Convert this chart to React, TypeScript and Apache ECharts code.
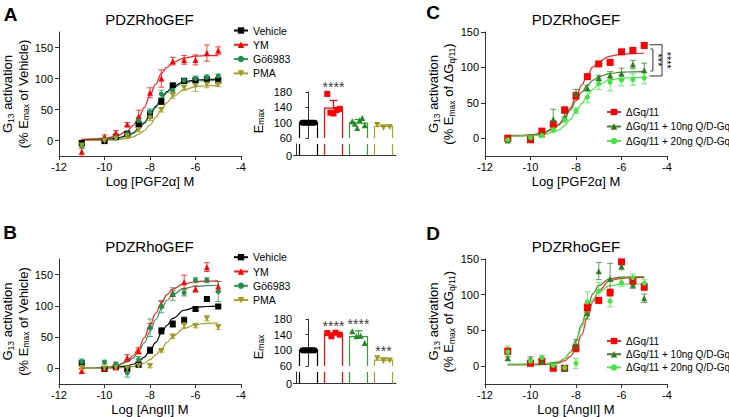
import React, { useEffect, useRef } from "react";
import * as echarts from "echarts";

const FONT = '"Liberation Sans", Arial, Helvetica, sans-serif';

// ---------- shared x values ----------
const doses = [-11, -10, -9.5, -9, -8.5, -8, -7.5, -7, -6.5, -6, -5.5, -5];
const fitDoses = [-11, -10.5, -10, -9.5, -9, -8.75, -8.5, -8.25, -8, -7.75, -7.5, -7.25, -7, -6.5, -6, -5.5, -5];
const yTickValues = [0, 50, 100, 150];

// ---------- Panel A (PGF2α) ----------
const vehicleA = [-4, -1, 6, 11, 26, 42, 63, 89, 96, 97, 99, 97];
const vehicleErrA = [4, 3, 3, 3, 5, 6, 5, 3, 3, 4, 4, 4];
const vehicleFitA = [1.5, 1.5, 2, 3.5, 8, 12, 19, 29, 41, 55, 68, 79, 87, 95, 97.5, 98.5, 99];
const ymA = [-18, 6, 12, 26, 39, 77, 100, 128, 130, 130, 141, 145];
const ymErrA = [8, 3, 4, 3, 10, 8, 14, 6, 7, 8, 13, 6];
const ymFitA = [2, 2.5, 3.5, 6.5, 15, 24, 36, 53, 73, 91, 108, 118, 126, 133, 136, 137, 137];
const goA = [-9, 2, 5, 11, 32, 46, 75, 81, 97, 100, 102, 104];
const goErrA = [4, 3, 3, 3, 4, 5, 6, 5, 4, 4, 4, 3];
const goFitA = [0, 0.5, 1, 2.5, 6.5, 11, 18, 27, 40, 53, 67, 77, 85, 93, 96, 97, 97.5];
const pmaA = [-8, -1, 3, 6, 17, 36, 49, 73, 85, 88, 90, 90];
const pmaErrA = [5, 2, 2, 2, 3, 4, 3, 5, 4, 9, 5, 3];
const pmaFitA = [0, 0, 0.4, 1, 3.4, 6, 10, 16, 25, 37, 50, 61, 71, 82, 87, 88.3, 89];

// ---------- Panel B (AngII) ----------
const vehicleB = [8, -1, 2, -1, 6, 29, 60, 71, 77, 95, 111, 99];
const vehicleErrB = [4, 2, 2, 4, 4, 5, 5, 5, 5, 3, 3, 3];
const vehicleFitB = [0, 0, 0.5, 1.5, 4, 6.6, 11, 18, 28.5, 41.5, 56, 69, 80, 93, 97.5, 99, 100];
const ymB = [-4, 0, 2, 17, 28, 68, 102, 120, 138, 127, 162, 131];
const ymErrB = [4, 2, 2, 5, 5, 4, 5, 5, 11, 5, 7, 8];
const ymFitB = [0, 0.4, 1.3, 4, 12, 20, 32, 49, 69, 88, 105, 118, 127, 135.5, 138.6, 139.5, 140];
const goB = [11, 10, 7, -7, 14, 65, 99, 119, 121, 141, 141, 123];
const goErrB = [4, 3, 3, 7, 5, 14, 10, 10, 5, 4, 4, 16];
const goFitB = [0, 0.3, 1, 3.3, 10, 16.5, 27, 41, 59, 78, 95, 109, 118, 128, 131, 132.5, 133];
const pmaB = [1, 0, 1, 0, 4, 4, 28, 51, 69, 68, 80, 66];
const pmaErrB = [3, 2, 2, 2, 2, 3, 2, 3, 4, 3, 4, 4];
const pmaFitB = [0, 0, 0.2, 0.6, 1.7, 2.9, 5, 8.5, 14, 21.5, 31, 41.6, 51, 64, 70, 72, 72.7];

// ---------- Panel C (PGF2α, ΔGq/11) ----------
const ctrlC = [0, -2, 10, 20, 40, 60, 87, 105, 107, 122, 124, 131];
const ctrlErrC = [3, 2, 4, 4, 4, 5, 3, 3, 2, 2, 2, 2];
const ctrlFitC = [4, 4.3, 5, 7, 13.5, 20, 29.5, 42.7, 58.5, 75, 89.6, 100.7, 108.4, 116, 118.7, 119.6, 120];
const q10C = [-3, 2, 6, 27, 30, 63, 71, 85, 89, 91, 104, 96];
const q10ErrC = [2, 2, 3, 14, 5, 6, 4, 4, 5, 8, 6, 10];
const q10FitC = [3, 3.3, 4, 6.4, 12.7, 19, 28, 39.7, 52.7, 65, 75, 82, 87, 91.6, 93.3, 93.8, 94];
const q20C = [-2, 1, 4, 12, 26, 39, 58, 77, 79, 82, 83, 85];
const q20ErrC = [2, 2, 3, 3, 4, 4, 8, 8, 12, 8, 8, 8];
const q20FitC = [3, 3.2, 3.6, 4.8, 8.5, 12, 18, 26.6, 37.5, 49, 60, 69.4, 75.7, 82.4, 84.8, 85.6, 86];
const sigTopsC = [126, 132];
const sigBottomsC = [95, 88];
const sigStarsC = ["***", "****"];

// ---------- Panel D (AngII, ΔGq/11) ----------
const ctrlD = [21, 4, 7, -3, -3, 25, 82, 92, 103, 146, 119, 111];
const ctrlErrD = [4, 3, 3, 3, 4, 5, 6, 4, 5, 3, 4, 5];
const ctrlFitD = [2, 2, 2, 2.2, 3.1, 4.5, 7.5, 13.6, 25, 44, 68, 90.5, 106, 120, 123, 123.8, 124];
const q10D = [11, 10, 6, 2, -3, 29, 74, 133, 122, 140, 114, 95];
const q10ErrD = [3, 3, 3, 3, 3, 8, 8, 12, 22, 5, 5, 6];
const q10FitD = [2, 2, 2.1, 2.4, 3.8, 6, 10.6, 19.8, 36, 58.6, 82.7, 101.6, 113, 122.6, 124.5, 125, 125];
const q20D = [20, 7, 12, 1, -2, 4, 90, 105, 91, 117, 124, 116];
const q20ErrD = [8, 3, 3, 3, 3, 7, 14, 12, 8, 5, 5, 5];
const q20FitD = [3, 3, 3.1, 3.4, 4.7, 6.7, 10.8, 19, 33.8, 54.5, 76.5, 93.7, 104, 112.8, 114.6, 115, 115];

// ---------- Emax insets ----------
const emaxCategories = ["Vehicle", "YM", "Gö6983", "PMA"];
const emaxTicks = [60, 100, 140, 180];
const emaxMeanA = [100, 138, 99, 90];
const emaxSdA = [0, 20, 9, 4];
const emaxPointsA = [
  [100, 100, 100, 100, 100, 100, 100, 100, 100, 100],
  [175, 126, 124, 133, 136],
  [104, 97, 86, 106, 112, 93],
  [94, 87, 89],
];
const emaxStarsA = ["", "****", "", ""];
const emaxMeanB = [100, 141, 135, 75];
const emaxSdB = [0, 4, 15, 6];
const emaxPointsB = [
  [100, 100, 100, 100, 100, 100, 100, 100, 100, 100],
  [144, 136, 145, 140],
  [149, 136, 137, 119],
  [80, 73, 74],
];
const emaxStarsB = ["", "****", "****", "***"];

// ---------- styles ----------
const abSpecs = [
  { name: "Vehicle", color: "#000000", line: "#000000", symbol: "rect", rot: 0, size: 6 },
  { name: "YM", color: "#ff0000", line: "#ff1a1a", symbol: "triangle", rot: 0, size: 6 },
  { name: "Gö6983", color: "#1f9052", line: "#2a9a5c", symbol: "circle", rot: 0, size: 5 },
  { name: "PMA", color: "#9c9c22", line: "#a3a32e", symbol: "triangle", rot: 180, size: 6 },
];
const cdSpecs = [
  { name: "ΔGq/11", color: "#ff0000", line: "#ff2020", symbol: "rect", rot: 0, size: 7 },
  { name: "ΔGq/11 + 10ng Q/D-Gq", color: "#2a7d1f", line: "#4a7f2a", symbol: "triangle", rot: 0, size: 6 },
  { name: "ΔGq/11 + 20ng Q/D-Gq", color: "#3ee63e", line: "#4ee84e", symbol: "circle", rot: 0, size: 5 },
];
const insetBarColors = ["#000000", "#ff0000", "#3a9a3a", "#a3a32a"];
const insetPointColors = ["#000000", "#ff0000", "#1e8c1e", "#9a9a1a"];
const insetSymbols = ["circle", "rect", "triangle", "triangle"];
const insetRots = [0, 0, 0, 180];
const LOWER_MAX = 20;
const AXIS_COLOR = "#333";

function errorBarRenderer(color: string) {
  return (params: any, api: any) => {
    const x = api.value(0);
    const y = api.value(1);
    const e = api.value(2);
    const top = api.coord([x, y + e]);
    const bot = api.coord([x, y - e]);
    const w = 3;
    const st = { stroke: color, lineWidth: 1, opacity: 0.75 };
    return {
      type: "group",
      children: [
        { type: "line", shape: { x1: top[0], y1: top[1], x2: bot[0], y2: bot[1] }, style: st },
        { type: "line", shape: { x1: top[0] - w, y1: top[1], x2: top[0] + w, y2: top[1] }, style: st },
        { type: "line", shape: { x1: bot[0] - w, y1: bot[1], x2: bot[0] + w, y2: bot[1] }, style: st },
      ],
    };
  };
}

function doseSeries(g: number, spec: any, pts: number[], errs: number[], fit: number[]) {
  return [
    {
      type: "line",
      name: spec.name,
      xAxisIndex: g,
      yAxisIndex: g,
      data: fitDoses.map((d, i) => [d, fit[i]]),
      smooth: 0.4,
      smoothMonotone: "x",
      showSymbol: false,
      symbol: spec.symbol,
      symbolRotate: spec.rot,
      symbolSize: spec.size,
      itemStyle: { color: spec.color },
      lineStyle: { color: spec.line, width: 1.2 },
      silent: true,
      z: 2,
    },
    {
      type: "custom",
      xAxisIndex: g,
      yAxisIndex: g,
      dimensions: ["x", "y", "e"],
      encode: { x: 0, y: 1 },
      data: doses.map((d, i) => [d, pts[i], errs[i]]),
      renderItem: errorBarRenderer(spec.color),
      silent: true,
      z: 3,
    },
    {
      type: "scatter",
      xAxisIndex: g,
      yAxisIndex: g,
      data: doses.map((d, i) => [d, pts[i]]),
      symbol: spec.symbol,
      symbolRotate: spec.rot,
      symbolSize: spec.size,
      itemStyle: { color: spec.color, opacity: 1 },
      silent: true,
      z: 4,
    },
  ];
}

function insetSeries(
  catX: number, jitX: number, upY: number, lowX: number, lowY: number,
  means: number[], sds: number[], points: number[][], stars: string[]
) {
  const out: any[] = [];
  out.push({
    type: "custom",
    xAxisIndex: catX,
    yAxisIndex: upY,
    data: means.map((m, i) => [i, m]),
    renderItem: (params: any, api: any) => {
      const i = api.value(0);
      const v = api.value(1);
      const top = api.coord([i, v]);
      const base = api.coord([i, emaxTicks[0]]);
      const bw = api.size([1, 0])[0] * 0.72;
      return {
        type: "polyline",
        shape: {
          points: [
            [top[0] - bw / 2, base[1]],
            [top[0] - bw / 2, top[1]],
            [top[0] + bw / 2, top[1]],
            [top[0] + bw / 2, base[1]],
          ],
        },
        style: { stroke: insetBarColors[params.dataIndex], lineWidth: 1.2, fill: "none" },
      };
    },
    silent: true,
    z: 2,
  });
  out.push({
    type: "custom",
    xAxisIndex: lowX,
    yAxisIndex: lowY,
    data: means.map((m, i) => [i, m]),
    renderItem: (params: any, api: any) => {
      const i = api.value(0);
      const b = api.coord([i, 0]);
      const t = api.coord([i, LOWER_MAX]);
      const bw = api.size([1, 0])[0] * 0.72;
      const st = { stroke: insetBarColors[params.dataIndex], lineWidth: 1.2 };
      return {
        type: "group",
        children: [
          { type: "line", shape: { x1: b[0] - bw / 2, y1: b[1], x2: b[0] - bw / 2, y2: t[1] }, style: st },
          { type: "line", shape: { x1: b[0] + bw / 2, y1: b[1], x2: b[0] + bw / 2, y2: t[1] }, style: st },
        ],
      };
    },
    silent: true,
    z: 2,
  });
  out.push({
    type: "custom",
    xAxisIndex: catX,
    yAxisIndex: upY,
    data: means.map((m, i) => [i, m, sds[i]]),
    renderItem: (params: any, api: any) => {
      const i = api.value(0);
      const m = api.value(1);
      const s = api.value(2);
      if (!s) return { type: "group", children: [] };
      const a = api.coord([i, m]);
      const b = api.coord([i, m + s]);
      const st = { stroke: insetBarColors[params.dataIndex], lineWidth: 1.2 };
      return {
        type: "group",
        children: [
          { type: "line", shape: { x1: a[0], y1: a[1], x2: b[0], y2: b[1] }, style: st },
          { type: "line", shape: { x1: b[0] - 4, y1: b[1], x2: b[0] + 4, y2: b[1] }, style: st },
        ],
      };
    },
    silent: true,
    z: 3,
  });
  points.forEach((list, ci) => {
    const n = list.length;
    const spread = 0.5;
    out.push({
      type: "scatter",
      xAxisIndex: jitX,
      yAxisIndex: upY,
      data: list.map((v, j) => [ci + (n > 1 ? (j / (n - 1) - 0.5) * spread : 0), v]),
      symbol: insetSymbols[ci],
      symbolRotate: insetRots[ci],
      symbolSize: 6,
      itemStyle: { color: insetPointColors[ci], opacity: 1 },
      silent: true,
      clip: false,
      z: 4,
    });
  });
  // significance stars above the highest mark of each group
  out.push({
    type: "scatter",
    xAxisIndex: catX,
    yAxisIndex: upY,
    data: means.map((m, i) => ({
      value: [i, Math.max(m + sds[i], ...points[i])],
      label: { show: !!stars[i], formatter: stars[i] },
    })),
    symbolSize: 1,
    itemStyle: { color: "rgba(0,0,0,0)" },
    label: { position: "top", distance: -1, fontSize: 14, fontFamily: FONT, color: "#000" },
    silent: true,
    clip: false,
    z: 5,
  });
  return out;
}

function bracketSeries() {
  const xRight = [-4.62, -4.22];
  const xLeft = [-4.72, -4.78];
  return {
    type: "custom",
    xAxisIndex: 2,
    yAxisIndex: 2,
    data: sigTopsC.map((t, i) => [t, sigBottomsC[i]]),
    renderItem: (params: any, api: any) => {
      const k = params.dataIndex;
      const t = api.value(0);
      const b = api.value(1);
      const tl = api.coord([xLeft[k], t]);
      const tr = api.coord([xRight[k], t]);
      const br = api.coord([xRight[k], b]);
      const bl = api.coord([xLeft[k], b]);
      return {
        type: "group",
        children: [
          {
            type: "polyline",
            shape: { points: [tl, tr, br, bl] },
            style: { stroke: "#333", lineWidth: 1, fill: "none" },
          },
          {
            type: "text",
            x: tr[0] + 5,
            y: (tr[1] + br[1]) / 2,
            rotation: -Math.PI / 2,
            style: {
              text: sigStarsC[k],
              fontSize: 11,
              fontFamily: FONT,
              fill: "#000",
              align: "center",
              verticalAlign: "middle",
            },
          },
        ],
      };
    },
    silent: true,
    clip: false,
    z: 5,
  };
}

const richName = {
  n: { fontSize: 13, lineHeight: 15.5, fontFamily: FONT, color: "#000" },
  s: { fontSize: 8.5, lineHeight: 8, verticalAlign: "bottom", fontFamily: FONT, color: "#000" },
};

function mainXAxis(g: number, name: string) {
  return {
    type: "value",
    gridIndex: g,
    min: -12,
    max: -4,
    interval: 2,
    name,
    nameLocation: "middle",
    nameGap: 19,
    nameTextStyle: { fontSize: 13, fontFamily: FONT, color: "#000" },
    axisLine: { onZero: false, lineStyle: { color: AXIS_COLOR, width: 1 } },
    axisTick: { length: 4, lineStyle: { color: AXIS_COLOR } },
    axisLabel: { fontSize: 11, fontFamily: FONT, color: "#000", margin: 5 },
    splitLine: { show: false },
  };
}

function mainYAxis(g: number, max: number, name: string) {
  return {
    type: "value",
    gridIndex: g,
    min: -25,
    max,
    name,
    nameLocation: "middle",
    nameGap: 26,
    nameRotate: 90,
    nameTextStyle: { fontFamily: FONT, color: "#000", rich: richName },
    axisLine: { show: true, onZero: false, lineStyle: { color: AXIS_COLOR, width: 1 } },
    axisTick: { show: true, length: 4, customValues: yTickValues, lineStyle: { color: AXIS_COLOR } },
    axisLabel: { customValues: yTickValues, fontSize: 11, fontFamily: FONT, color: "#000", margin: 6 },
    splitLine: { show: false },
  };
}

function buildOption() {
  const yNameAB = "{n|G}{s|13}{n| activation}\n{n|(% E}{s|max}{n| of Vehicle)}";
  const yNameCD = "{n|G}{s|13}{n| activation}\n{n|(% E}{s|max}{n| of ΔG}{s|q/11}{n|)}";

  const grid = [
    { left: 58, top: 32, width: 183, height: 124 },
    { left: 59, top: 259, width: 182, height: 125 },
    { left: 485, top: 32, width: 182, height: 124 },
    { left: 485, top: 259, width: 182, height: 125 },
    { left: 296, top: 92, width: 100, height: 46 },
    { left: 296, top: 144, width: 100, height: 11.5 },
    { left: 296, top: 319, width: 100, height: 47 },
    { left: 296, top: 372, width: 100, height: 11.5 },
  ];

  const hiddenCat = (g: number) => ({ type: "category", gridIndex: g, data: emaxCategories, show: false });
  const baseCat = (g: number) => ({
    type: "category",
    gridIndex: g,
    data: emaxCategories,
    axisLine: { show: true, lineStyle: { color: AXIS_COLOR, width: 1 } },
    axisTick: { show: false },
    axisLabel: { show: false },
  });
  const jitter = (g: number) => ({ type: "value", gridIndex: g, min: -0.5, max: 3.5, show: false });
  const upperY = (g: number) => ({
    type: "value",
    gridIndex: g,
    min: emaxTicks[0],
    max: emaxTicks[emaxTicks.length - 1],
    interval: 40,
    axisLine: { show: true, lineStyle: { color: AXIS_COLOR, width: 1 } },
    axisTick: { show: true, length: 3, lineStyle: { color: AXIS_COLOR } },
    axisLabel: { fontSize: 11, fontFamily: FONT, color: "#000", margin: 4 },
    splitLine: { show: false },
  });
  const lowerY = (g: number) => ({
    type: "value",
    gridIndex: g,
    min: 0,
    max: LOWER_MAX,
    axisLine: { show: true, lineStyle: { color: AXIS_COLOR, width: 1 } },
    axisTick: { show: true, length: 3, customValues: [0], lineStyle: { color: AXIS_COLOR } },
    axisLabel: { customValues: [0], fontSize: 11, fontFamily: FONT, color: "#000", margin: 4 },
    splitLine: { show: false },
  });

  const xAxis = [
    mainXAxis(0, "Log [PGF2α] M"),
    mainXAxis(1, "Log [AngII] M"),
    mainXAxis(2, "Log [PGF2α] M"),
    mainXAxis(3, "Log [AngII] M"),
    hiddenCat(4),
    baseCat(5),
    hiddenCat(6),
    baseCat(7),
    jitter(4),
    jitter(6),
  ];
  const yAxis = [
    mainYAxis(0, 175, yNameAB),
    mainYAxis(1, 175, yNameAB),
    mainYAxis(2, 150, yNameCD),
    mainYAxis(3, 150, yNameCD),
    upperY(4),
    lowerY(5),
    upperY(6),
    lowerY(7),
  ];

  const series: any[] = [
    ...doseSeries(0, abSpecs[0], vehicleA, vehicleErrA, vehicleFitA),
    ...doseSeries(0, abSpecs[1], ymA, ymErrA, ymFitA),
    ...doseSeries(0, abSpecs[2], goA, goErrA, goFitA),
    ...doseSeries(0, abSpecs[3], pmaA, pmaErrA, pmaFitA),
    ...doseSeries(1, abSpecs[0], vehicleB, vehicleErrB, vehicleFitB),
    ...doseSeries(1, abSpecs[1], ymB, ymErrB, ymFitB),
    ...doseSeries(1, abSpecs[2], goB, goErrB, goFitB),
    ...doseSeries(1, abSpecs[3], pmaB, pmaErrB, pmaFitB),
    ...doseSeries(2, cdSpecs[0], ctrlC, ctrlErrC, ctrlFitC),
    ...doseSeries(2, cdSpecs[1], q10C, q10ErrC, q10FitC),
    ...doseSeries(2, cdSpecs[2], q20C, q20ErrC, q20FitC),
    ...doseSeries(3, cdSpecs[0], ctrlD, ctrlErrD, ctrlFitD),
    ...doseSeries(3, cdSpecs[1], q10D, q10ErrD, q10FitD),
    ...doseSeries(3, cdSpecs[2], q20D, q20ErrD, q20FitD),
    ...insetSeries(4, 8, 4, 5, 5, emaxMeanA, emaxSdA, emaxPointsA, emaxStarsA),
    ...insetSeries(6, 9, 6, 7, 7, emaxMeanB, emaxSdB, emaxPointsB, emaxStarsB),
    bracketSeries(),
  ];

  const legendBase = {
    orient: "vertical",
    itemWidth: 14,
    itemHeight: 8,
    selectedMode: false,
    padding: 0,
    textStyle: { fontSize: 10.5, lineHeight: 10, fontFamily: FONT, color: "#000" },
  };
  const abNames = abSpecs.map((s) => s.name);
  const cdNames = cdSpecs.map((s) => s.name);
  const cdText = { ...legendBase.textStyle, fontSize: 10 };
  const legend = [
    { ...legendBase, data: abNames, left: 233, top: 25, itemGap: 3.3 },
    { ...legendBase, data: abNames, left: 233, top: 251.7, itemGap: 3.3 },
    { ...legendBase, data: cdNames, left: 606, top: 107, itemGap: 4.5, textStyle: cdText },
    { ...legendBase, data: cdNames, left: 606, top: 336, itemGap: 3.2, textStyle: cdText },
  ];

  const title = (x: number, y: number) => ({
    type: "text",
    x,
    y,
    style: { text: "PDZRhoGEF", fontSize: 15, fontFamily: FONT, fill: "#000", align: "center", verticalAlign: "middle" },
  });
  const letter = (t: string, x: number, y: number) => ({
    type: "text",
    x,
    y,
    style: { text: t, fontSize: 19, fontWeight: "bold", fontFamily: FONT, fill: "#000", align: "center", verticalAlign: "middle" },
  });
  const emaxLabel = (x: number, y: number) => ({
    type: "text",
    x,
    y,
    rotation: Math.PI / 2,
    style: {
      text: "{n|E}{s|max}",
      rich: richName,
      fontFamily: FONT,
      fill: "#000",
      align: "center",
      verticalAlign: "middle",
    },
  });

  const graphic = [
    letter("A", 10.5, 14),
    letter("B", 10, 232),
    letter("C", 433, 12.5),
    letter("D", 433, 233.5),
    title(149.5, 19.5),
    title(149.5, 246.5),
    title(576, 19),
    title(576, 246.5),
    emaxLabel(258, 121),
    emaxLabel(258, 347),
  ];

  return {
    animation: false,
    backgroundColor: "#ffffff",
    textStyle: { fontFamily: FONT },
    grid,
    xAxis,
    yAxis,
    legend,
    series,
    graphic,
  };
}

export default function App() {
  const ref = useRef<HTMLDivElement>(null);
  useEffect(() => {
    if (!ref.current) return;
    const chart = echarts.init(ref.current, null, { renderer: "svg" });
    chart.setOption(buildOption() as any);
    return () => chart.dispose();
  }, []);
  return (
    <div
      ref={ref}
      style={{ position: "absolute", left: 0, top: 0, width: 729, height: 417, background: "#fff" }}
    />
  );
}
